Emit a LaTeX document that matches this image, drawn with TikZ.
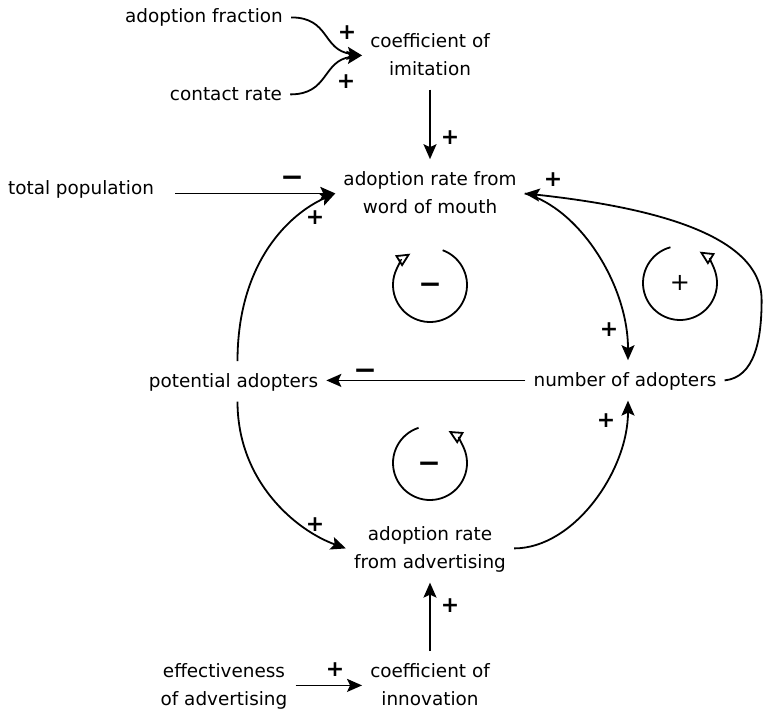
\documentclass[tikz,border=0pt]{standalone}
\usepackage{fontspec}
\setmainfont{DejaVu Sans}
\usetikzlibrary{arrows.meta,calc}
\newcommand\varfont{\fontsize{18.4}{28}\selectfont}
\newcommand\plsign{{\fontsize{22}{22}\selectfont\bfseries +}}
\newcommand\mnsign{{\fontsize{28}{28}\selectfont\bfseries −\vphantom{+}}}
\newcommand\loopplus{{\fontsize{24}{24}\selectfont +}}
\begin{document}
\begin{tikzpicture}[x=1pt,y=1pt,
  var/.style={font=\varfont, align=center, inner xsep=8pt, inner ysep=6pt},
  sign/.style={inner sep=0pt},
  arr/.style={line width=1.8pt, -{Stealth[length=15pt,width=13pt,inset=3pt]}},
  loopc/.style={line width=1.8pt, -{Triangle[open,length=14pt,width=13pt]}}]
\useasboundingbox (0,0) rectangle (763,-712);
% variables
\node[var] (af)  at (204,-17.4)   {\strut adoption fraction};
\node[var] (cr)  at (226,-94.4)   {\strut contact rate};
\node[var] (ci)  at (430,-55.4)   {\strut coefficient of\\\strut imitation};
\node[var] (wom) at (430,-193.4)  {\strut adoption rate from\\\strut word of mouth};
\node[var] (tp)  at (81,-188.4)   {\strut total population};
\node[var] (pa)  at (233.5,-381.4){\strut potential adopters};
\node[var] (na)  at (625,-380.4)  {\strut number of adopters};
\node[var] (ara) at (430,-548.4)  {\strut adoption rate\\\strut from advertising};
\node[var] (ea)  at (224,-685.4)  {\strut effectiveness\\\strut of advertising};
\node[var] (cin) at (430,-685.4)  {\strut coefficient of\\\strut innovation};
% connectors
\draw[arr] (af.east) .. controls +(39,0) and +(-40,5.4) .. (ci.west);
\draw[arr] (cr.east) .. controls +(39,0) and +(-40,-5.4) .. (ci.west);
\draw[arr] (ci.south) -- (wom.north);
\draw[arr,shorten <=13pt] (tp.east |- wom.west) -- (wom.west);
\draw[arr] ([xshift=4pt]pa.north) .. controls +(0,100) and +(-45,-20) .. (wom.west);
\draw[arr] ([xshift=4pt]pa.south) .. controls +(0,-80) and +(-50,18) .. (ara.west);
\draw[arr] (ara.east) .. controls +(60,0) and +(0,-70) .. ([xshift=3pt]na.south);
\draw[arr] (na.west) -- (pa.east |- na.west);
\draw[arr] (wom.east) .. controls +(55,-15) and +(0,75) .. ([xshift=3pt]na.north);
\draw[arr] (na.east) .. controls +(30,3) and +(0,-40) .. ++(37,80.4)
                     .. controls +(0,70) and +(110,-12) .. (wom.east);
\draw[arr] (cin.north) -- (ara.south);
\draw[arr] (ea.east) -- (cin.west);
% polarity signs
\node[sign] (s1)  at (347,-33)  {\plsign};
\node[sign] (s2)  at (346,-82)  {\plsign};
\node[sign] (s3)  at (450,-138) {\plsign};
\node[sign] (s4)  at (292,-178) {\mnsign};
\node[sign] (s5)  at (315,-218) {\plsign};
\node[sign] (s6)  at (553,-180) {\plsign};
\node[sign] (s7)  at (609,-330) {\plsign};
\node[sign] (s8)  at (365,-371) {\mnsign};
\node[sign] (s9)  at (606,-421) {\plsign};
\node[sign] (s10) at (315,-525) {\plsign};
\node[sign] (s11) at (450,-606) {\plsign};
\node[sign] (s12) at (335,-670) {\plsign};
% loop markers
\node[sign] (L1) at (430,-285) {\mnsign};
\node[sign] (L2) at (429,-464) {\mnsign};
\node[sign] (L3) at (680,-283) {\loopplus};
\draw[loopc] ([shift={(70:37)}]L1.center) arc[start angle=70, end angle=-238, radius=37pt];
\draw[loopc] ([shift={(108:37)}]430,-463) arc[start angle=108, end angle=420, radius=37pt];
\draw[loopc] ([shift={(105:37)}]L3.center) arc[start angle=105, end angle=418, radius=37pt];
\end{tikzpicture}
\end{document}
